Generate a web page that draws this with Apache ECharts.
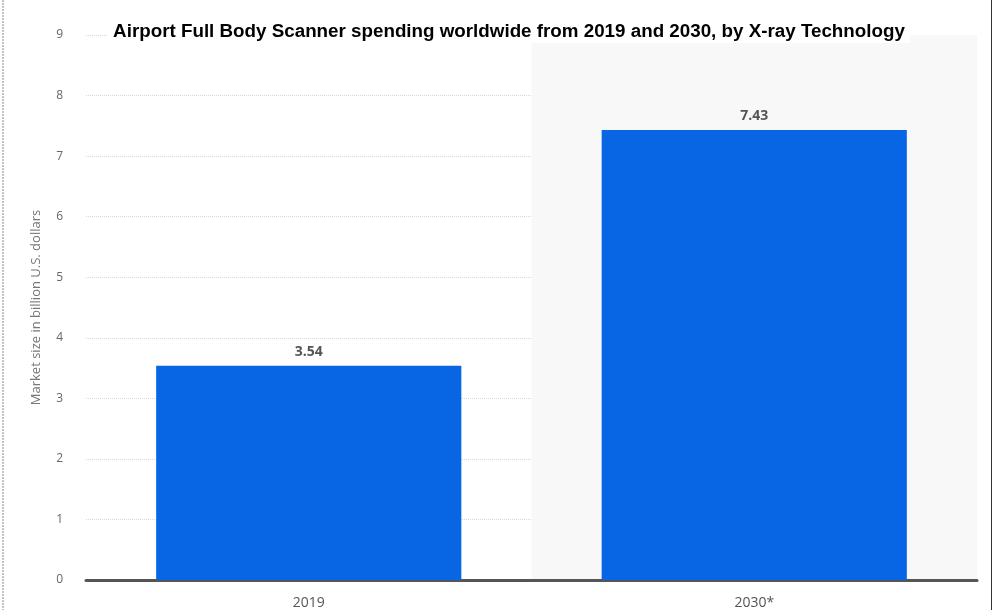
<!DOCTYPE html>
<html>
<head>
<meta charset="utf-8">
<script src="https://cdn.jsdelivr.net/npm/echarts@6/dist/echarts.min.js"></script>
<style>
html,body{margin:0;padding:0;background:#fff;}
#chart{width:996px;height:610px;}
</style>
</head>
<body>
<div id="chart"></div>
<script>
var titleText = 'Airport Full Body Scanner spending worldwide from 2019 and 2030, by X-ray Technology';
var categories = ['2019', '2030*'];
var values = [3.54, 7.43];
var yAxisName = 'Market size in billion U.S. dollars';
var yMin = 0, yMax = 9, yInterval = 1;

var chart = echarts.init(document.getElementById('chart'));
chart.setOption({
  animation: false,
  backgroundColor: '#fff',
  title: {
    text: titleText,
    left: 504,
    textAlign: 'center',
    top: 20,
    backgroundColor: '#fff',
    padding: [2, 5],
    textStyle: {
      fontFamily: 'Liberation Sans',
      fontWeight: 'bold',
      fontSize: 18.8,
      color: '#000'
    }
  },
  grid: { left: 86, right: 19, top: 35, bottom: 30, containLabel: false },
  xAxis: {
    type: 'category',
    data: categories,
    axisLine: { show: true, lineStyle: { color: '#555', width: 3 } },
    axisTick: { show: false },
    axisLabel: { color: '#555', fontSize: 14, fontFamily: 'Open Sans', margin: 16 },
    splitArea: { show: true, areaStyle: { color: ['rgba(255,255,255,0)', '#f8f8f8'] } }
  },
  yAxis: {
    type: 'value',
    min: yMin, max: yMax, interval: yInterval,
    name: yAxisName,
    nameLocation: 'middle',
    nameGap: 43,
    nameTextStyle: { color: '#777', fontSize: 13, fontFamily: 'Open Sans' },
    axisLine: { show: false },
    axisTick: { show: false },
    axisLabel: { color: '#666', fontSize: 12, fontFamily: 'Open Sans', margin: 23 },
    splitLine: { lineStyle: { color: '#d8d8d8', type: 'dotted', width: 1 } }
  },
  series: [{
    type: 'bar',
    data: values,
    barWidth: '68.5%',
    itemStyle: { color: '#0866e4' },
    label: {
      show: true,
      position: 'top',
      distance: 7,
      color: '#555',
      fontWeight: 'bold',
      fontSize: 14,
      fontFamily: 'Open Sans',
      formatter: function (p) { return p.value.toFixed(2); }
    }
  }],
  graphic: [
    { type: 'line', shape: { x1: 3, y1: 0, x2: 3, y2: 610 }, style: { stroke: '#888', lineWidth: 1, lineDash: [2, 1] } },
    { type: 'line', shape: { x1: 991.5, y1: 0, x2: 991.5, y2: 610 }, style: { stroke: '#333', lineWidth: 1 } }
  ]
});
</script>
</body>
</html>
